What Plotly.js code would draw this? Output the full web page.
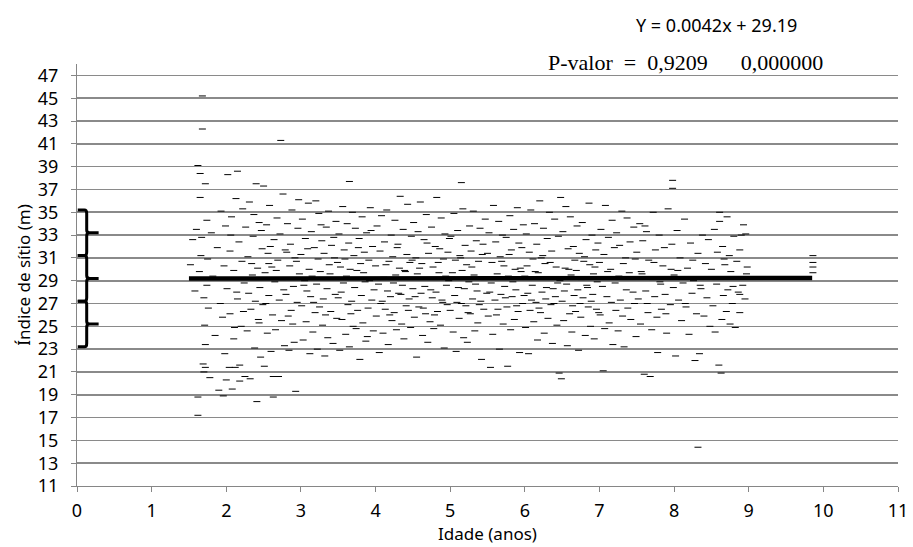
<!DOCTYPE html>
<html>
<head>
<meta charset="utf-8">
<script src="https://cdn.plot.ly/plotly-3.0.1.min.js"></script>
<style>html,body{margin:0;padding:0;background:#fff;}#chart{width:913px;height:547px;}</style>
</head>
<body>
<div id="chart"></div>
<script>
// Idade (anos) of each observation
const idade = [
1.52,1.55,1.58,1.6,1.62,1.62,1.64,1.65,1.66,1.68,
1.68,1.7,1.7,1.71,1.72,1.72,1.74,1.75,1.76,1.78,
1.62,1.65,1.67,1.69,1.72,1.74,1.8,1.82,1.85,1.88,
1.9,1.92,1.93,1.95,1.96,1.97,1.98,1.99,2.0,2.01,
2.02,2.04,2.05,2.05,2.07,2.08,2.1,2.1,2.12,2.13,
2.15,2.15,2.17,2.18,2.18,2.2,2.21,2.22,2.24,2.25,
2.26,2.28,2.29,2.3,2.31,2.32,2.33,2.35,2.36,2.38,
2.4,2.41,2.42,2.43,2.44,2.45,2.46,2.48,2.49,2.5,
2.06,2.14,2.23,2.34,2.39,2.47,2.11,2.27,2.37,2.44,
2.51,2.52,2.54,2.55,2.56,2.57,2.58,2.6,2.61,2.62,
2.63,2.63,2.64,2.65,2.66,2.68,2.69,2.7,2.71,2.72,
2.73,2.74,2.75,2.76,2.78,2.79,2.8,2.82,2.83,2.85,
2.86,2.87,2.88,2.9,2.91,2.92,2.93,2.95,2.96,2.98,
2.53,2.59,2.67,2.77,2.84,2.89,2.94,2.97,2.57,2.81,
3.0,3.01,3.02,3.03,3.05,3.06,3.07,3.08,3.1,3.11,
3.12,3.13,3.14,3.15,3.16,3.18,3.19,3.2,3.21,3.22,
3.23,3.24,3.25,3.26,3.28,3.29,3.3,3.31,3.32,3.34,
3.35,3.36,3.37,3.38,3.4,3.41,3.42,3.43,3.45,3.46,
3.47,3.48,3.49,3.04,3.09,3.17,3.27,3.33,3.39,3.44,
3.5,3.51,3.52,3.53,3.55,3.56,3.57,3.58,3.6,3.61,
3.62,3.63,3.64,3.65,3.65,3.66,3.68,3.69,3.7,3.71,
3.72,3.73,3.74,3.75,3.76,3.78,3.79,3.8,3.81,3.82,
3.83,3.85,3.86,3.87,3.88,3.9,3.91,3.92,3.93,3.95,
3.96,3.97,3.98,3.54,3.59,3.67,3.77,3.84,3.89,3.94,
4.0,4.01,4.02,4.04,4.05,4.06,4.07,4.08,4.1,4.11,
4.12,4.13,4.15,4.16,4.17,4.18,4.2,4.21,4.22,4.23,
4.25,4.26,4.27,4.28,4.3,4.31,4.32,4.33,4.35,4.36,
4.37,4.38,4.4,4.41,4.42,4.43,4.45,4.46,4.47,4.48,
4.03,4.09,4.14,4.19,4.24,4.29,4.34,4.39,4.44,4.49,
4.5,4.51,4.52,4.54,4.55,4.56,4.57,4.58,4.6,4.61,
4.62,4.63,4.65,4.66,4.67,4.68,4.7,4.71,4.72,4.73,
4.75,4.76,4.77,4.78,4.8,4.81,4.82,4.83,4.85,4.86,
4.87,4.88,4.9,4.91,4.92,4.93,4.95,4.96,4.97,4.98,
4.53,4.59,4.64,4.69,4.74,4.79,4.84,4.89,4.94,4.99,
5.0,5.01,5.02,5.04,5.05,5.06,5.07,5.08,5.1,5.11,
5.12,5.13,5.15,5.15,5.16,5.17,5.18,5.2,5.21,5.22,
5.23,5.25,5.26,5.27,5.28,5.3,5.31,5.32,5.33,5.35,
5.36,5.37,5.38,5.4,5.41,5.42,5.43,5.45,5.46,5.47,
5.03,5.09,5.14,5.19,5.24,5.29,5.34,5.39,5.44,5.49,
5.5,5.51,5.52,5.54,5.55,5.56,5.57,5.58,5.6,5.61,
5.62,5.63,5.65,5.66,5.67,5.68,5.7,5.71,5.72,5.73,
5.75,5.76,5.77,5.78,5.8,5.81,5.82,5.83,5.85,5.86,
5.87,5.88,5.9,5.91,5.92,5.93,5.95,5.96,5.97,5.98,
5.53,5.59,5.64,5.69,5.74,5.79,5.84,5.89,5.94,5.99,
6.0,6.01,6.02,6.04,6.05,6.06,6.07,6.08,6.1,6.11,
6.12,6.13,6.15,6.16,6.17,6.18,6.2,6.21,6.22,6.23,
6.25,6.26,6.27,6.28,6.3,6.31,6.32,6.33,6.35,6.36,
6.37,6.38,6.4,6.41,6.42,6.43,6.45,6.46,6.47,6.48,
6.03,6.09,6.14,6.19,6.24,6.29,6.34,6.39,6.44,6.49,
6.5,6.51,6.52,6.54,6.55,6.56,6.57,6.58,6.6,6.61,
6.62,6.63,6.65,6.66,6.67,6.68,6.7,6.71,6.72,6.73,
6.75,6.76,6.77,6.78,6.8,6.81,6.82,6.83,6.85,6.86,
6.87,6.88,6.9,6.91,6.92,6.93,6.95,6.96,6.97,6.98,
6.53,6.59,6.64,6.69,6.74,6.79,6.84,6.89,6.94,6.99,
7.0,7.01,7.02,7.04,7.05,7.06,7.07,7.08,7.1,7.11,
7.12,7.13,7.15,7.16,7.17,7.18,7.2,7.21,7.22,7.23,
7.25,7.26,7.27,7.28,7.3,7.31,7.32,7.33,7.35,7.36,
7.37,7.38,7.4,7.41,7.42,7.45,7.46,7.47,7.48,7.49,
7.5,7.52,7.54,7.55,7.57,7.58,7.6,7.62,7.63,7.65,
7.66,7.68,7.7,7.71,7.72,7.74,7.75,7.77,7.78,7.8,
7.82,7.83,7.85,7.87,7.88,7.9,7.92,7.93,7.95,7.97,
7.98,7.98,7.99,7.56,7.64,7.73,7.81,7.89,7.96,7.61,
8.0,8.02,8.04,8.06,8.08,8.1,8.12,8.14,8.16,8.18,
8.2,8.22,8.24,8.26,8.28,8.3,8.32,8.32,8.34,8.36,
8.38,8.4,8.42,8.44,8.46,8.48,8.05,8.15,8.25,8.35,
8.5,8.52,8.54,8.55,8.57,8.58,8.6,8.61,8.61,8.62,
8.63,8.64,8.65,8.66,8.68,8.7,8.71,8.72,8.74,8.75,
8.76,8.78,8.8,8.82,8.84,8.86,8.88,8.88,8.9,8.92,
8.93,8.95,8.96,8.98,8.56,8.67,8.79,8.88,8.88,8.97,
9.86,9.86,9.86,9.86
];
// Índice de sítio (m) of each observation
const indice = [
30.4,32.6,28.1,33.5,39.1,17.2,29.8,38.4,31.2,45.2,
42.3,21.0,27.5,25.1,37.5,23.4,34.3,30.9,26.6,20.5,
18.8,36.3,32.8,21.7,21.4,28.6,33.2,29.4,24.2,31.9,
19.4,27.0,35.1,25.8,18.9,30.3,22.6,33.8,20.3,28.3,
38.3,21.4,26.1,31.6,34.6,19.5,29.9,23.9,21.4,36.2,
38.6,27.4,32.4,20.2,21.6,25.0,30.7,35.3,28.8,20.6,
33.7,24.6,31.1,27.9,35.9,20.4,26.5,29.5,32.9,23.1,
37.5,18.4,30.1,25.6,34.1,28.4,22.3,31.8,26.9,37.3,
33.0,28.0,26.3,30.5,27.2,33.4,24.9,29.2,34.8,25.3,
21.5,29.7,33.9,24.4,31.4,27.7,35.6,22.8,30.2,26.0,
20.6,18.8,32.6,28.9,24.7,34.5,30.8,20.6,27.3,33.1,
41.3,25.5,29.1,36.6,23.3,31.7,27.8,34.0,25.9,30.3,
32.2,26.4,35.2,28.5,23.6,31.0,19.3,27.1,33.6,29.6,
27.0,32.0,29.9,28.2,22.9,25.2,30.7,36.1,30.5,31.5,
31.3,26.8,34.4,23.8,29.0,32.7,25.4,28.1,35.8,30.0,
22.6,27.6,33.3,29.4,24.5,31.9,26.2,36.0,28.7,23.0,
30.9,34.9,26.7,29.8,32.5,25.1,27.4,31.4,22.4,33.7,
28.3,24.0,35.1,30.4,26.3,32.1,29.2,23.5,31.0,27.8,
34.2,25.7,30.6,28.6,31.8,27.1,33.9,26.0,29.6,32.8,
27.5,33.1,22.9,30.2,25.6,35.5,28.8,31.7,24.3,29.4,
34.0,26.9,32.3,37.7,23.2,30.0,27.2,35.0,25.0,31.2,
28.4,33.6,24.8,29.9,26.4,32.7,22.1,30.5,27.7,34.6,
25.3,31.5,28.9,23.7,33.2,26.6,30.8,29.0,35.4,27.3,
32.0,24.6,28.2,28.0,30.9,26.1,31.9,29.7,24.1,33.4,
30.3,25.9,33.8,28.7,22.7,31.6,27.0,34.7,24.4,29.3,
32.4,26.5,35.2,28.1,23.4,30.7,27.6,33.0,25.5,31.1,
26.2,34.3,29.5,24.7,32.2,27.9,30.1,36.4,25.2,28.6,
33.5,23.9,29.8,26.8,31.3,35.7,27.4,30.6,24.9,32.9,
29.1,27.2,30.4,26.0,28.8,31.9,27.8,29.9,26.4,30.8,
28.3,34.1,25.8,31.0,22.3,29.6,33.3,26.7,35.9,27.9,
30.5,24.2,32.6,28.5,26.1,34.8,23.6,31.4,29.2,25.4,
33.7,27.5,30.2,24.8,32.0,28.0,36.3,26.3,29.7,31.8,
25.1,34.5,27.1,30.9,23.1,33.1,28.6,26.9,31.5,29.0,
27.6,30.1,26.6,32.3,28.2,26.0,30.6,27.3,29.4,32.7,
26.4,32.9,29.3,24.5,34.9,27.7,30.8,22.8,33.4,28.4,
25.7,31.2,37.6,27.0,29.9,35.3,24.0,32.1,26.8,30.4,
23.6,28.9,33.8,26.1,31.6,27.4,35.1,29.5,24.6,32.5,
28.1,25.3,30.7,33.6,27.2,22.1,31.3,26.5,29.1,34.4,
29.7,27.1,31.0,28.3,26.2,30.2,28.7,26.9,32.2,27.9,
31.4,25.9,33.2,21.4,28.8,30.6,24.3,35.6,27.3,32.4,
26.0,29.6,34.2,23.0,31.1,27.8,33.0,25.2,30.3,28.5,
32.8,26.7,21.5,29.4,34.7,24.7,31.7,27.6,33.5,25.6,
30.0,28.2,35.4,26.3,32.3,22.7,29.8,31.9,27.0,33.9,
28.0,29.2,26.5,30.7,27.5,31.3,28.9,26.8,30.1,27.7,
29.4,24.9,33.1,27.9,22.6,31.5,26.4,35.2,28.6,30.9,
25.4,34.0,27.1,32.2,23.8,29.7,36.0,26.2,31.0,28.0,
33.6,24.4,30.5,27.4,32.7,25.7,29.3,35.0,26.9,31.6,
23.5,28.3,34.4,27.6,30.2,25.1,32.9,20.9,29.0,36.3,
30.3,27.3,29.8,26.6,31.2,28.4,30.6,27.0,28.8,20.4,
27.2,33.3,25.5,30.1,35.5,28.7,23.3,31.8,26.1,34.6,
29.5,24.5,32.0,27.7,30.8,26.3,33.8,28.2,22.9,31.4,
25.8,29.1,34.1,27.5,31.1,24.2,32.6,28.6,26.7,35.8,
30.4,25.0,33.0,27.8,29.6,23.9,31.7,26.5,28.9,32.3,
28.1,30.0,26.8,29.9,27.0,30.7,28.4,27.2,30.2,26.2,
30.6,26.0,33.5,28.5,21.1,31.3,24.8,35.6,27.6,29.8,
32.8,25.3,30.0,27.1,34.3,23.4,31.9,28.8,26.4,33.2,
24.6,29.4,32.1,27.3,35.1,25.9,30.5,23.2,31.0,28.2,
34.5,26.6,29.7,32.4,25.6,28.0,33.7,27.0,30.9,24.1,
31.5,27.4,34.0,25.2,29.6,32.5,20.8,28.1,33.3,26.2,
30.8,20.6,24.7,29.1,35.0,27.6,31.7,25.8,22.7,33.0,
28.7,26.5,30.3,31.9,27.8,24.4,35.3,29.3,26.9,32.2,
37.8,37.1,28.4,29.8,27.0,30.6,28.9,26.1,30.0,33.8,
29.5,22.4,33.4,27.3,31.0,25.5,28.8,34.4,26.7,30.1,
24.3,32.3,27.9,29.0,22.0,26.1,14.4,31.4,22.6,28.3,
33.0,25.9,30.5,27.5,32.6,25.0,29.9,27.0,30.8,28.6,
30.0,26.8,33.5,24.5,28.7,31.5,21.6,35.0,34.2,29.3,
20.9,25.6,32.0,27.7,30.4,26.3,34.6,28.2,31.2,25.2,
29.8,27.0,32.9,24.9,30.7,28.0,29.3,26.2,33.0,28.6,
33.9,27.4,33.1,30.2,29.1,30.9,28.5,31.7,27.8,29.6,
31.2,30.6,30.2,29.7
];

// Fitted model
const slope = 0.0042;
const intercept = 29.19;
const fitRange = [1.5, 9.85];

// Class limits marked by braces on the left
const classLimits = [23.2, 27.2, 31.2, 35.2];

const yTicks = [11,13,15,17,19,21,23,25,27,29,31,33,35,37,39,41,43,45,47];
const xTicks = [0,1,2,3,4,5,6,7,8,9,10,11];

const fitY = fitRange.map(x => slope * x + intercept);

const shapes = [];
for (let i = 0; i < classLimits.length - 1; i++) {
  const lo = classLimits[i], hi = classLimits[i+1], mid = (lo + hi) / 2;
  shapes.push({
    type: 'path', xref: 'x', yref: 'y', layer: 'above',
    path: `M 0.01,${lo} L 0.1,${lo} Q 0.13,${lo} 0.13,${lo+0.3} L 0.13,${mid-0.25} Q 0.13,${mid} 0.17,${mid} L 0.29,${mid} M 0.17,${mid} Q 0.13,${mid} 0.13,${mid+0.25} L 0.13,${hi-0.3} Q 0.13,${hi} 0.1,${hi} L 0.01,${hi}`,
    line: {color: '#000', width: 3}
  });
}

const traces = [
  {
    x: idade, y: indice, type: 'scatter', mode: 'markers',
    marker: {symbol: 'line-ew', size: 5, color: '#000', line: {color: '#000', width: 1}},
    hoverinfo: 'x+y', showlegend: false
  },
  {
    x: fitRange, y: fitY, type: 'scatter', mode: 'lines',
    line: {color: '#000', width: 4.5}, showlegend: false
  }
];

const fam = '"Noto Sans", "Open Sans", sans-serif';
const tickFont = {family: fam, size: 18, color: '#000'};

const layout = {
  width: 913, height: 547,
  margin: {l: 77, r: 15, t: 64, b: 61},
  paper_bgcolor: '#fff', plot_bgcolor: '#fff',
  showlegend: false,
  xaxis: {
    range: [0, 11], tickvals: xTicks, ticktext: xTicks.map(String),
    showgrid: false, zeroline: false,
    showline: true, linecolor: '#868686', linewidth: 1,
    ticks: 'outside', ticklen: 5, tickcolor: '#868686',
    tickfont: tickFont, ticklabelstandoff: 3,
    automargin: false,
    title: {text: 'Idade (anos)', font: {family: fam, size: 17, color: '#000'}, standoff: 0}
  },
  yaxis: {
    range: [11, 48], tickvals: yTicks, ticktext: yTicks.map(String),
    showgrid: true, gridcolor: '#8a8a8a', gridwidth: 1.6,
    zeroline: false,
    showline: true, linecolor: '#868686', linewidth: 1,
    ticks: 'outside', ticklen: 5, tickcolor: '#868686',
    tickfont: tickFont, ticklabelstandoff: 9,
    automargin: false,
    title: {text: 'Índice de sítio (m)', font: {family: fam, size: 17, color: '#000'}, standoff: 2}
  },
  shapes: shapes,
  annotations: [
    {text: 'Y = 0.0042x + 29.19', x: 716, y: 25,
     font: {family: fam, size: 18, color: '#000'}},
    {text: 'P-valor&nbsp;&nbsp;=&nbsp;&nbsp;0,9209&nbsp;&nbsp;&nbsp;&nbsp;&nbsp;&nbsp;0,000000', x: 685, y: 62,
     font: {family: '"Liberation Serif", "Times New Roman", serif', size: 22, color: '#000'}}
  ]
};

// convert pixel anchor positions for the two text annotations into paper fractions
const plotW = 913 - 77 - 15, plotH = 547 - 64 - 61;
layout.annotations.forEach(a => {
  a.x = (a.x - 77) / plotW;
  a.y = 1 - (a.y - 64) / plotH;
  a.xanchor = 'center'; a.yanchor = 'middle';
  a.xref = 'paper'; a.yref = 'paper';
  a.showarrow = false;
});

Plotly.newPlot('chart', traces, layout, {displayModeBar: false, staticPlot: true});
</script>
</body>
</html>
